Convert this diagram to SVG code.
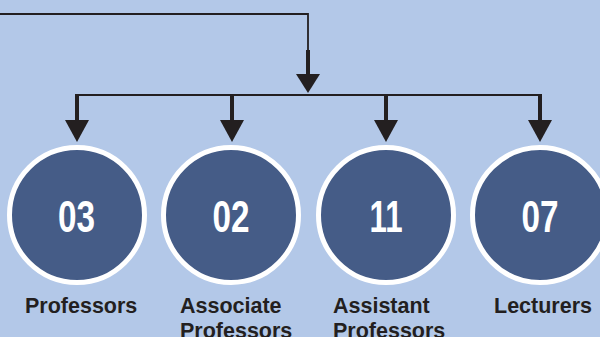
<svg xmlns="http://www.w3.org/2000/svg" width="600" height="337" viewBox="0 0 600 337">
<style>
.bg{fill:#b3c8e8}
.ln{fill:none;stroke:#231f20;stroke-width:1.8}
.thick{fill:none;stroke:#231f20;stroke-width:4}
.head{fill:#231f20}
.circ{fill:#455c87;stroke:#ffffff;stroke-width:5}
.num{font-family:"Liberation Sans",Arial,sans-serif;font-size:45px;font-weight:bold;fill:#ffffff}
.lbl{font-family:"Liberation Sans",Arial,sans-serif;font-size:21.5px;font-weight:bold;fill:#231f20}
</style>
<rect class="bg" x="0" y="0" width="600" height="337"/>
<g id="connectors">
<polyline class="ln" points="0,14 308,14 308,52"/>
<line class="thick" x1="308" y1="50" x2="308" y2="76"/>
<polygon class="head" points="296,74 320,74 308,93"/>
<polyline class="ln" points="77,96 77,95 540,95 540,96"/>
<line class="thick" x1="77" y1="94" x2="77" y2="122"/>
<polygon class="head" points="65,120 89,120 77,142"/>
<line class="thick" x1="232" y1="94" x2="232" y2="122"/>
<polygon class="head" points="220,120 244,120 232,142"/>
<line class="thick" x1="386" y1="94" x2="386" y2="122"/>
<polygon class="head" points="374,120 398,120 386,142"/>
<line class="thick" x1="540" y1="94" x2="540" y2="122"/>
<polygon class="head" points="528,120 552,120 540,142"/>
</g>
<g id="node-professors">
<circle class="circ" cx="77" cy="215" r="67.5"/>
<text class="num" x="76.5" y="232" text-anchor="middle" textLength="37" lengthAdjust="spacingAndGlyphs">03</text>
<text class="lbl" x="25" y="313">Professors</text>
</g>
<g id="node-associate">
<circle class="circ" cx="231" cy="215" r="67.5"/>
<text class="num" x="231" y="232" text-anchor="middle" textLength="37" lengthAdjust="spacingAndGlyphs">02</text>
<text class="lbl" x="180" y="313">Associate</text>
<text class="lbl" x="180" y="338">Professors</text>
</g>
<g id="node-assistant">
<circle class="circ" cx="386" cy="215" r="67.5"/>
<text class="num" x="386" y="232" text-anchor="middle" textLength="33" lengthAdjust="spacingAndGlyphs">11</text>
<text class="lbl" x="333" y="313">Assistant</text>
<text class="lbl" x="333" y="338">Professors</text>
</g>
<g id="node-lecturers">
<circle class="circ" cx="540" cy="215" r="67.5"/>
<text class="num" x="540" y="232" text-anchor="middle" textLength="37" lengthAdjust="spacingAndGlyphs">07</text>
<text class="lbl" x="494" y="313">Lecturers</text>
</g>
</svg>
